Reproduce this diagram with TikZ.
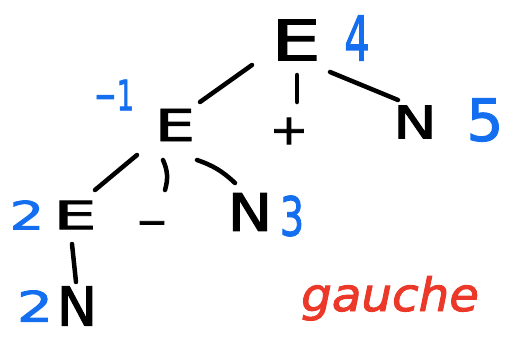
\documentclass[tikz,border=0pt]{standalone}
\usepackage{fontspec}
\usepackage{graphicx}
\setmainfont{DejaVu Sans}[FakeBold=2]
\usetikzlibrary{calc}
\definecolor{inkblack}{RGB}{0,0,0}
\definecolor{numblue}{RGB}{20,110,240}
\definecolor{notered}{RGB}{236,56,40}
% horizontal stretch for the hand-drawn look
\newcommand\hstretchby[2]{\scalebox{#1}[1]{#2}}
\newcommand\sz[1]{\fontsize{#1}{#1}\selectfont}
\tikzset{
  sym/.style={inner sep=0pt, text=inkblack},
  val/.style={inner sep=0pt, text=numblue},
  edge/.style={draw=inkblack, line width=4.5pt, line cap=round},
}
\begin{document}
\begin{tikzpicture}[x=1pt,y=-1pt]
\useasboundingbox[fill=white] (0,0) rectangle (508,341);

% grammar symbols
\node[sym, font=\sz{56}] (rootE) at (296,40) {\hstretchby{1.4}{E}};
\node[sym, font=\sz{44}] (leftE) at (175,125) {\hstretchby{1.45}{E}};
\node[sym, font=\sz{42}] (plus)  at (289,131) {\hstretchby{1.1}{+}};
\node[sym, font=\sz{45}] (rightN) at (415,122) {\hstretchby{1.3}{N}};
\node[sym, font=\sz{39}] (botE)  at (75,215) {\hstretchby{1.75}{E}};
\node[sym, font=\sz{38}] (minus) at (152,228) {−};
\node[sym, font=\sz{52}] (midN)  at (250,212) {\hstretchby{1.15}{N}};
\node[sym, font=\sz{54}] (botN)  at (77,306) {N};

% attribute values
\node[val, font=\sz{62}] (v4)  at (357,38)  {\hstretchby{0.65}{4}};
\node[val, font=\sz{42}] (vm1) at (114,95)  {\hstretchby{0.65}{−1}};
\node[val, font=\sz{58}] (v5)  at (485,120) {5};
\node[val, font=\sz{39}] (v2a) at (27,215)  {\hstretchby{1.4}{2}};
\node[val, font=\sz{54}] (v3)  at (292,216) {\hstretchby{0.7}{3}};
\node[val, font=\sz{42}] (v2b) at (35,306)  {\hstretchby{1.35}{2}};

% associativity note
\node[inner sep=0pt, anchor=base west, text=notered, font=\sz{46}\itshape]
  (note) at (301,311) {\hstretchby{1.05}{gauche}};

% tree edges
\draw[edge] ($(rootE)+(-44,25)$) -- ($(leftE)+(25,-23)$);
\draw[edge] ($(rootE)+(1,35)$) -- ($(plus)+(8,-29)$);
\draw[edge] ($(rootE)+(34,32)$) -- ($(rightN)+(-17,-22)$);
\draw[edge] ($(leftE)+(-38,30)$) -- ($(botE)+(20,-25)$);
\draw[edge] ($(leftE)+(-12,35)$) to[bend left=20] ($(minus)+(13,-38)$);
\draw[edge] ($(leftE)+(22,35)$) to[bend left=12] ($(midN)+(-15,-29)$);
\draw[edge] ($(botE)+(-3,29)$) -- ($(botN)+(-1,-24)$);
\end{tikzpicture}
\end{document}
